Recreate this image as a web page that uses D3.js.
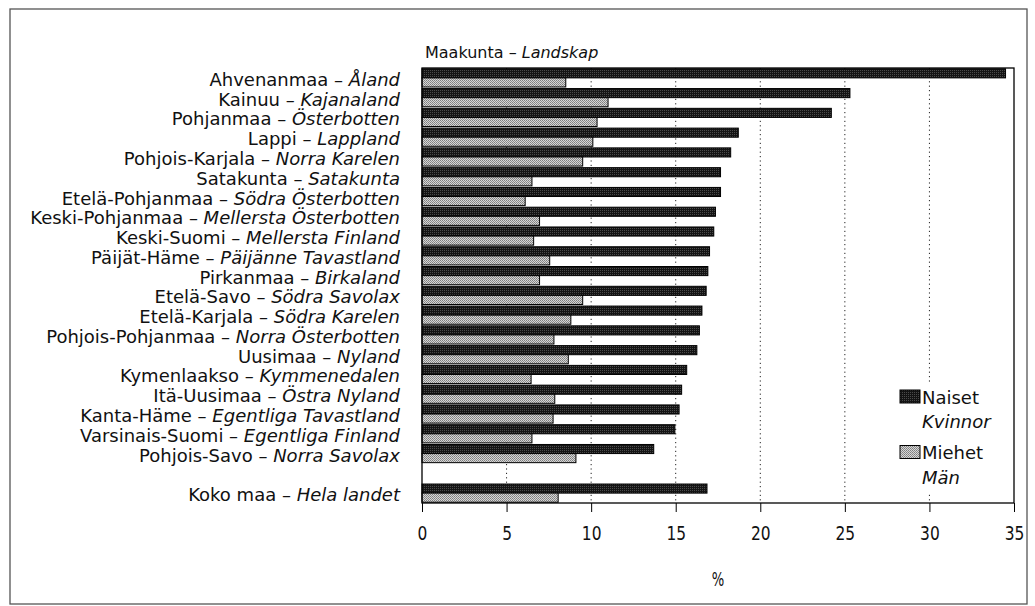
<!DOCTYPE html>
<html>
<head>
<meta charset="utf-8">
<script src="https://cdn.jsdelivr.net/npm/d3@7"></script>
<style>
  html, body { margin: 0; padding: 0; background: #fff; }
  svg text { font-family: "DejaVu Sans", "Liberation Sans", sans-serif; fill: #111; }
  svg text.cond { font-family: "DejaVu Sans Condensed", "DejaVu Sans", sans-serif; }
</style>
</head>
<body>
<svg id="chart" width="1035" height="606"></svg>
<script>
// ---- Data ----
const regionsFi = ["Ahvenanmaa","Kainuu","Pohjanmaa","Lappi","Pohjois-Karjala","Satakunta","Etelä-Pohjanmaa","Keski-Pohjanmaa","Keski-Suomi","Päijät-Häme","Pirkanmaa","Etelä-Savo","Etelä-Karjala","Pohjois-Pohjanmaa","Uusimaa","Kymenlaakso","Itä-Uusimaa","Kanta-Häme","Varsinais-Suomi","Pohjois-Savo","Koko maa"];
const regionsSv = ["Åland","Kajanaland","Österbotten","Lappland","Norra Karelen","Satakunta","Södra Österbotten","Mellersta Österbotten","Mellersta Finland","Päijänne Tavastland","Birkaland","Södra Savolax","Södra Karelen","Norra Österbotten","Nyland","Kymmenedalen","Östra Nyland","Egentliga Tavastland","Egentliga Finland","Norra Savolax","Hela landet"];
const women = [34.5, 25.3, 24.2, 18.7, 18.25, 17.65, 17.65, 17.35, 17.25, 17.0, 16.9, 16.8, 16.55, 16.4, 16.25, 15.65, 15.35, 15.2, 14.95, 13.7, 16.85];
const men   = [8.5, 11.0, 10.35, 10.1, 9.5, 6.5, 6.1, 6.95, 6.6, 7.55, 6.95, 9.5, 8.8, 7.8, 8.65, 6.45, 7.85, 7.75, 6.5, 9.1, 8.05];
const xTicks = [0, 5, 10, 15, 20, 25, 30, 35];
const gridTicks = [5, 10, 15, 20, 25, 30];
const titleFi = "Maakunta", titleSv = "Landskap";
const legendFi = ["Naiset", "Miehet"], legendSv = ["Kvinnor", "Män"];
const axisTitle = "%";

// ---- Layout ----
const svg = d3.select("#chart");
const X0 = 422, X1 = 1014, Y0 = 68, Y1 = 503;
const rows = regionsFi.map((d, i) => ({fi: d, sv: regionsSv[i], w: women[i], m: men[i], key: d}));
const slots = rows.slice(0, rows.length - 1).map(r => r.key).concat(["__gap"], [rows[rows.length - 1].key]);

const x = d3.scaleLinear().domain([0, 35]).range([X0, X1]);
const y = d3.scaleBand().domain(slots).range([Y0, Y1]).paddingInner(0.08).paddingOuter(0.04);
const bw = y.bandwidth();

// outer border
svg.append("rect").attr("x", 10).attr("y", 9).attr("width", 1017).attr("height", 595)
  .attr("fill", "none").attr("stroke", "#555").attr("stroke-width", 1.3);

// patterns
const defs = svg.append("defs");
const pw = defs.append("pattern").attr("id", "pW").attr("width", 2).attr("height", 2).attr("patternUnits", "userSpaceOnUse");
pw.append("rect").attr("width", 2).attr("height", 2).attr("fill", "#141414");
pw.append("rect").attr("width", 1).attr("height", 1).attr("fill", "#4a4a4a");
const pm = defs.append("pattern").attr("id", "pM").attr("width", 2).attr("height", 2).attr("patternUnits", "userSpaceOnUse");
pm.append("rect").attr("width", 2).attr("height", 2).attr("fill", "#d6d6d6");
pm.append("rect").attr("width", 1).attr("height", 1).attr("fill", "#7e7e7e");
pm.append("rect").attr("x", 1).attr("y", 1).attr("width", 1).attr("height", 1).attr("fill", "#8e8e8e");

// gridlines
svg.append("g").selectAll("line").data(gridTicks).join("line")
  .attr("x1", d => x(d)).attr("x2", d => x(d)).attr("y1", Y0).attr("y2", Y1)
  .attr("stroke", "#222").attr("stroke-width", 1).attr("stroke-dasharray", "1.2,3.2");

// bars
const g = svg.append("g");
g.selectAll("rect.w").data(rows).join("rect").attr("class", "w")
  .attr("x", x(0)).attr("y", d => y(d.key))
  .attr("width", d => x(d.w) - x(0)).attr("height", bw / 2)
  .attr("fill", "url(#pW)").attr("stroke", "#000").attr("stroke-width", 1);
g.selectAll("rect.m").data(rows).join("rect").attr("class", "m")
  .attr("x", x(0)).attr("y", d => y(d.key) + bw / 2)
  .attr("width", d => x(d.m) - x(0)).attr("height", bw / 2)
  .attr("fill", "url(#pM)").attr("stroke", "#000").attr("stroke-width", 1);

// legend background (covers gridline)
svg.append("rect").attr("x", 893).attr("y", 383).attr("width", 118).attr("height", 110).attr("fill", "#fff");

// frame
svg.append("rect").attr("x", X0).attr("y", Y0).attr("width", X1 - X0).attr("height", Y1 - Y0)
  .attr("fill", "none").attr("stroke", "#000").attr("stroke-width", 1.3);

// x axis
const xAxis = d3.axisBottom(x).tickValues(xTicks).tickSize(9).tickPadding(12).tickFormat(d3.format("d"));
const ax = svg.append("g").attr("transform", `translate(0,${Y1})`).call(xAxis);
ax.select(".domain").remove();
ax.selectAll(".tick line").attr("stroke", "#000").attr("stroke-width", 1);
ax.selectAll(".tick text").attr("class", "cond").attr("font-size", 19.5).attr("fill", "#111")
  .attr("dy", "0.71em").attr("y", 23).attr("transform", "scale(0.88,1)");

svg.append("text").attr("class", "cond")
  .attr("transform", `translate(${(X0 + X1) / 2},586) scale(0.75,1)`)
  .attr("text-anchor", "middle").attr("font-size", 19.5).text(axisTitle);

// row labels
const lab = svg.append("g").selectAll("text").data(rows).join("text")
  .attr("x", 400).attr("y", d => y(d.key) + bw / 2 + 8)
  .attr("text-anchor", "end").attr("font-size", 18);
lab.append("tspan").text(d => d.fi + " – ");
lab.append("tspan").attr("font-style", "italic").text(d => d.sv);

// title
const t = svg.append("text").attr("x", 425).attr("y", 58).attr("font-size", 16);
t.append("tspan").text(titleFi + " – ");
t.append("tspan").attr("font-style", "italic").text(titleSv);

// legend
const legY = [390, 445.5];
const fills = ["url(#pW)", "url(#pM)"];
legendFi.forEach((name, i) => {
  svg.append("rect").attr("x", 900).attr("y", legY[i]).attr("width", 20).attr("height", 13)
    .attr("fill", fills[i]).attr("stroke", "#000").attr("stroke-width", 1);
  svg.append("text").attr("x", 922).attr("y", legY[i] + 13.5).attr("font-size", 18).text(name);
  svg.append("text").attr("x", 922).attr("y", legY[i] + 38).attr("font-size", 18)
    .attr("font-style", "italic").text(legendSv[i]);
});
</script>
</body>
</html>
